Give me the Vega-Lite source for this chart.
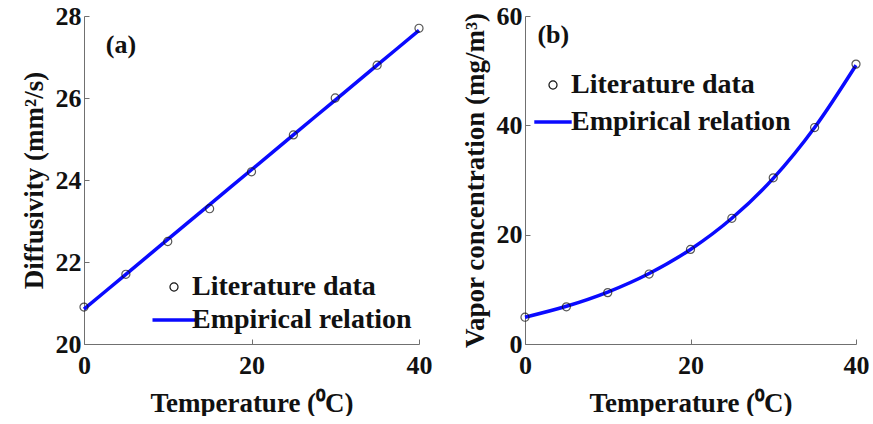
{
  "$schema": "https://vega.github.io/schema/vega-lite/v6.json",
  "background": "white",
  "padding": {"left": 20, "top": 3, "right": 0, "bottom": 0},
  "spacing": 29,
  "config": {
    "view": {"stroke": null},
    "font": "Liberation Serif",
    "axis": {
      "domainColor": "#707070",
      "tickColor": "#707070",
      "tickSize": -5,
      "labelFlush": false,
      "labelFont": "Liberation Serif",
      "labelFontWeight": "bold",
      "labelFontSize": 26,
      "labelColor": "#111111",
      "titleFont": "Liberation Serif",
      "titleFontWeight": "bold",
      "titleFontSize": 27,
      "titleColor": "#111111",
      "grid": false
    },
    "legend": {
      "labelFont": "Liberation Serif",
      "labelFontWeight": "bold",
      "labelFontSize": 28,
      "labelColor": "#111111",
      "labelLimit": 400,
      "title": null
    }
  },
  "resolve": {"scale": {"color": "independent"}, "legend": {"color": "independent"}},
  "datasets": {
    "diff": [
      {"T": 0, "v": 20.9, "series": "Literature data"},
      {"T": 5, "v": 21.7, "series": "Literature data"},
      {"T": 10, "v": 22.5, "series": "Literature data"},
      {"T": 15, "v": 23.3, "series": "Literature data"},
      {"T": 20, "v": 24.2, "series": "Literature data"},
      {"T": 25, "v": 25.1, "series": "Literature data"},
      {"T": 30, "v": 26.0, "series": "Literature data"},
      {"T": 35, "v": 26.8, "series": "Literature data"},
      {"T": 40, "v": 27.7, "series": "Literature data"},
      {"T": 0, "v": 20.85, "series": "Empirical relation"},
      {"T": 5, "v": 21.7, "series": "Empirical relation"},
      {"T": 10, "v": 22.55, "series": "Empirical relation"},
      {"T": 15, "v": 23.4, "series": "Empirical relation"},
      {"T": 20, "v": 24.25, "series": "Empirical relation"},
      {"T": 25, "v": 25.1, "series": "Empirical relation"},
      {"T": 30, "v": 25.95, "series": "Empirical relation"},
      {"T": 35, "v": 26.8, "series": "Empirical relation"},
      {"T": 40, "v": 27.65, "series": "Empirical relation"}
    ],
    "vap": [
      {"T": 0, "v": 4.9, "series": "Literature data"},
      {"T": 5, "v": 6.8, "series": "Literature data"},
      {"T": 10, "v": 9.4, "series": "Literature data"},
      {"T": 15, "v": 12.8, "series": "Literature data"},
      {"T": 20, "v": 17.3, "series": "Literature data"},
      {"T": 25, "v": 23.0, "series": "Literature data"},
      {"T": 30, "v": 30.4, "series": "Literature data"},
      {"T": 35, "v": 39.6, "series": "Literature data"},
      {"T": 40, "v": 51.2, "series": "Literature data"},
      {"T": 0, "v": 4.9, "series": "Empirical relation"},
      {"T": 5, "v": 6.9, "series": "Empirical relation"},
      {"T": 10, "v": 9.5, "series": "Empirical relation"},
      {"T": 15, "v": 12.9, "series": "Empirical relation"},
      {"T": 20, "v": 17.3, "series": "Empirical relation"},
      {"T": 25, "v": 23.0, "series": "Empirical relation"},
      {"T": 30, "v": 30.3, "series": "Empirical relation"},
      {"T": 35, "v": 39.6, "series": "Empirical relation"},
      {"T": 40, "v": 51.0, "series": "Empirical relation"}
    ],
    "labA": [{"T": 2.6, "v": 27.3, "label": "(a)"}],
    "labB": [{"T": 1.5, "v": 56.5, "label": "(b)"}]
  },
  "hconcat": [
    {
      "width": 335,
      "height": 328,
      "layer": [
        {
          "data": {"name": "diff"},
          "transform": [{"filter": "datum.series === 'Empirical relation'"}],
          "mark": {"type": "line", "strokeWidth": 3.5, "interpolate": "monotone"},
          "encoding": {
            "x": {"field": "T", "type": "quantitative", "scale": {"domain": [0, 40]}, "axis": {"values": [0, 20, 40], "title": "Temperature (⁰C)", "labelPadding": 13, "titlePadding": 12}},
            "y": {"field": "v", "type": "quantitative", "scale": {"domain": [20, 28]}, "axis": {"values": [20, 22, 24, 26, 28], "title": "Diffusivity (mm²/s)", "labelPadding": 8, "titlePadding": 7}},
            "color": {
              "field": "series", "type": "nominal",
              "scale": {"domain": ["Literature data", "Empirical relation"], "range": ["#111111", "#0a0aff"]},
              "legend": {
                "orient": "none", "legendX": 76, "legendY": 257, "rowPadding": 5, "symbolStrokeWidth": 3.5,
                "encode": {"symbols": {"update": {
                  "shape": {"signal": "datum.value === 'Literature data' ? 'circle' : 'stroke'"},
                  "size": {"signal": "datum.value === 'Literature data' ? 65 : 1850"},
                  "strokeWidth": {"signal": "datum.value === 'Literature data' ? 1.2 : 3.5"},
                  "fill": {"value": "transparent"},
                  "stroke": {"signal": "datum.value === 'Literature data' ? '#111111' : '#0a0aff'"}
                }}}
              }
            }
          }
        },
        {
          "data": {"name": "diff"},
          "transform": [{"filter": "datum.series === 'Literature data'"}],
          "mark": {"type": "point", "filled": false, "size": 65, "strokeWidth": 1.2},
          "encoding": {
            "x": {"field": "T", "type": "quantitative"},
            "y": {"field": "v", "type": "quantitative"},
            "color": {"field": "series", "type": "nominal"}
          }
        },
        {
          "data": {"name": "labA"},
          "mark": {"type": "text", "align": "left", "baseline": "middle", "fontSize": 26, "fontWeight": "bold", "font": "Liberation Serif", "color": "#111111"},
          "encoding": {
            "x": {"field": "T", "type": "quantitative"},
            "y": {"field": "v", "type": "quantitative"},
            "text": {"field": "label"}
          }
        }
      ]
    },
    {
      "width": 331,
      "height": 328,
      "layer": [
        {
          "data": {"name": "vap"},
          "transform": [{"filter": "datum.series === 'Empirical relation'"}],
          "mark": {"type": "line", "strokeWidth": 3.5, "interpolate": "monotone"},
          "encoding": {
            "x": {"field": "T", "type": "quantitative", "scale": {"domain": [0, 40]}, "axis": {"values": [0, 20, 40], "title": "Temperature (⁰C)", "labelPadding": 13, "titlePadding": 12}},
            "y": {"field": "v", "type": "quantitative", "scale": {"domain": [0, 60]}, "axis": {"values": [0, 20, 40, 60], "title": "Vapor concentration (mg/m³)", "labelPadding": 8, "titlePadding": 7}},
            "color": {
              "field": "series", "type": "nominal",
              "scale": {"domain": ["Literature data", "Empirical relation"], "range": ["#111111", "#0a0aff"]},
              "legend": {
                "orient": "none", "legendX": 14, "legendY": 55, "rowPadding": 9, "symbolStrokeWidth": 3.5,
                "encode": {"symbols": {"update": {
                  "shape": {"signal": "datum.value === 'Literature data' ? 'circle' : 'stroke'"},
                  "size": {"signal": "datum.value === 'Literature data' ? 65 : 1400"},
                  "strokeWidth": {"signal": "datum.value === 'Literature data' ? 1.2 : 3.5"},
                  "fill": {"value": "transparent"},
                  "stroke": {"signal": "datum.value === 'Literature data' ? '#111111' : '#0a0aff'"}
                }}}
              }
            }
          }
        },
        {
          "data": {"name": "vap"},
          "transform": [{"filter": "datum.series === 'Literature data'"}],
          "mark": {"type": "point", "filled": false, "size": 65, "strokeWidth": 1.2},
          "encoding": {
            "x": {"field": "T", "type": "quantitative"},
            "y": {"field": "v", "type": "quantitative"},
            "color": {"field": "series", "type": "nominal"}
          }
        },
        {
          "data": {"name": "labB"},
          "mark": {"type": "text", "align": "left", "baseline": "middle", "fontSize": 26, "fontWeight": "bold", "font": "Liberation Serif", "color": "#111111"},
          "encoding": {
            "x": {"field": "T", "type": "quantitative"},
            "y": {"field": "v", "type": "quantitative"},
            "text": {"field": "label"}
          }
        }
      ]
    }
  ]
}
